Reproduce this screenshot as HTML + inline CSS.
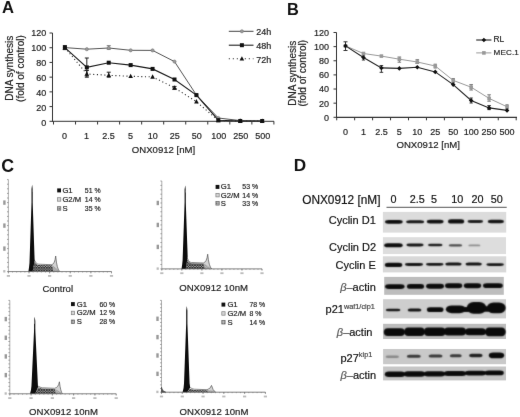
<!DOCTYPE html>
<html><head><meta charset="utf-8"><style>
html,body{margin:0;padding:0;background:#fff;width:520px;height:417px;overflow:hidden}
svg{display:block;font-family:"Liberation Sans", sans-serif;will-change:transform}
</style></head><body>
<svg width="520" height="417" viewBox="0 0 520 417">
<defs><filter id="gblur" x="0" y="0" width="520" height="417" filterUnits="userSpaceOnUse" color-interpolation-filters="sRGB"><feConvolveMatrix order="3" kernelMatrix="0.00276 0.04704 0.00276 0.04704 0.80077 0.04704 0.00276 0.04704 0.00276" edgeMode="duplicate"/></filter></defs>
<g filter="url(#gblur)">
<rect width="520" height="417" fill="#fff"/>
<text x="1.90" y="12.90" font-size="16.6" text-anchor="start" fill="#111" stroke="#111" stroke-width="0" font-weight="bold" >A</text>
<line x1="52.50" y1="33.00" x2="52.50" y2="121.80" stroke="#333" stroke-width="1" />
<line x1="49.50" y1="121.30" x2="52.50" y2="121.30" stroke="#333" stroke-width="1" />
<text x="46.30" y="126.03" font-size="9" text-anchor="end" fill="#222" stroke="#222" stroke-width="0.18" font-weight="normal" >0</text>
<line x1="49.50" y1="106.58" x2="52.50" y2="106.58" stroke="#333" stroke-width="1" />
<text x="46.30" y="111.10" font-size="9" text-anchor="end" fill="#222" stroke="#222" stroke-width="0.18" font-weight="normal" >20</text>
<line x1="49.50" y1="91.87" x2="52.50" y2="91.87" stroke="#333" stroke-width="1" />
<text x="46.30" y="96.17" font-size="9" text-anchor="end" fill="#222" stroke="#222" stroke-width="0.18" font-weight="normal" >40</text>
<line x1="49.50" y1="77.15" x2="52.50" y2="77.15" stroke="#333" stroke-width="1" />
<text x="46.30" y="81.24" font-size="9" text-anchor="end" fill="#222" stroke="#222" stroke-width="0.18" font-weight="normal" >60</text>
<line x1="49.50" y1="62.43" x2="52.50" y2="62.43" stroke="#333" stroke-width="1" />
<text x="46.30" y="66.31" font-size="9" text-anchor="end" fill="#222" stroke="#222" stroke-width="0.18" font-weight="normal" >80</text>
<line x1="49.50" y1="47.72" x2="52.50" y2="47.72" stroke="#333" stroke-width="1" />
<text x="46.30" y="51.38" font-size="9" text-anchor="end" fill="#222" stroke="#222" stroke-width="0.18" font-weight="normal" >100</text>
<line x1="49.50" y1="33.00" x2="52.50" y2="33.00" stroke="#333" stroke-width="1" />
<text x="46.30" y="36.45" font-size="9" text-anchor="end" fill="#222" stroke="#222" stroke-width="0.18" font-weight="normal" >120</text>
<line x1="52.50" y1="121.30" x2="274.00" y2="121.30" stroke="#333" stroke-width="1" />
<line x1="53.50" y1="121.30" x2="53.50" y2="124.50" stroke="#333" stroke-width="1" />
<line x1="75.54" y1="121.30" x2="75.54" y2="124.50" stroke="#333" stroke-width="1" />
<line x1="97.58" y1="121.30" x2="97.58" y2="124.50" stroke="#333" stroke-width="1" />
<line x1="119.62" y1="121.30" x2="119.62" y2="124.50" stroke="#333" stroke-width="1" />
<line x1="141.66" y1="121.30" x2="141.66" y2="124.50" stroke="#333" stroke-width="1" />
<line x1="163.70" y1="121.30" x2="163.70" y2="124.50" stroke="#333" stroke-width="1" />
<line x1="185.74" y1="121.30" x2="185.74" y2="124.50" stroke="#333" stroke-width="1" />
<line x1="207.78" y1="121.30" x2="207.78" y2="124.50" stroke="#333" stroke-width="1" />
<line x1="229.82" y1="121.30" x2="229.82" y2="124.50" stroke="#333" stroke-width="1" />
<line x1="251.86" y1="121.30" x2="251.86" y2="124.50" stroke="#333" stroke-width="1" />
<line x1="273.90" y1="121.30" x2="273.90" y2="124.50" stroke="#333" stroke-width="1" />
<text x="64.50" y="139.20" font-size="9" text-anchor="middle" fill="#222" stroke="#222" stroke-width="0.18" font-weight="normal" >0</text>
<text x="86.54" y="139.20" font-size="9" text-anchor="middle" fill="#222" stroke="#222" stroke-width="0.18" font-weight="normal" >1</text>
<text x="108.58" y="139.20" font-size="9" text-anchor="middle" fill="#222" stroke="#222" stroke-width="0.18" font-weight="normal" >2.5</text>
<text x="130.62" y="139.20" font-size="9" text-anchor="middle" fill="#222" stroke="#222" stroke-width="0.18" font-weight="normal" >5</text>
<text x="152.66" y="139.20" font-size="9" text-anchor="middle" fill="#222" stroke="#222" stroke-width="0.18" font-weight="normal" >10</text>
<text x="174.70" y="139.20" font-size="9" text-anchor="middle" fill="#222" stroke="#222" stroke-width="0.18" font-weight="normal" >25</text>
<text x="196.74" y="139.20" font-size="9" text-anchor="middle" fill="#222" stroke="#222" stroke-width="0.18" font-weight="normal" >50</text>
<text x="218.78" y="139.20" font-size="9" text-anchor="middle" fill="#222" stroke="#222" stroke-width="0.18" font-weight="normal" >100</text>
<text x="240.82" y="139.20" font-size="9" text-anchor="middle" fill="#222" stroke="#222" stroke-width="0.18" font-weight="normal" >250</text>
<text x="262.86" y="139.20" font-size="9" text-anchor="middle" fill="#222" stroke="#222" stroke-width="0.18" font-weight="normal" >500</text>
<text x="163.50" y="153.20" font-size="9.6" text-anchor="middle" fill="#222" stroke="#222" stroke-width="0.18" font-weight="normal" >ONX0912 [nM]</text>
<text transform="translate(12.6,68.2) rotate(-90)" font-size="10" text-anchor="middle" fill="#222" stroke="#222" stroke-width="0.18">DNA synthesis</text>
<text transform="translate(23.8,68.6) rotate(-90)" font-size="10" text-anchor="middle" fill="#222" stroke="#222" stroke-width="0.18">(fold of control)</text>
<line x1="86.82" y1="58.00" x2="86.82" y2="76.00" stroke="#222" stroke-width="1" />
<line x1="84.82" y1="58.00" x2="88.82" y2="58.00" stroke="#222" stroke-width="1" />
<line x1="84.82" y1="76.00" x2="88.82" y2="76.00" stroke="#222" stroke-width="1" />
<line x1="86.82" y1="70.50" x2="86.82" y2="77.20" stroke="#222" stroke-width="1" />
<line x1="84.82" y1="70.50" x2="88.82" y2="70.50" stroke="#222" stroke-width="1" />
<line x1="84.82" y1="77.20" x2="88.82" y2="77.20" stroke="#222" stroke-width="1" />
<line x1="108.74" y1="72.20" x2="108.74" y2="77.20" stroke="#222" stroke-width="1" />
<line x1="106.74" y1="72.20" x2="110.74" y2="72.20" stroke="#222" stroke-width="1" />
<line x1="106.74" y1="77.20" x2="110.74" y2="77.20" stroke="#222" stroke-width="1" />
<line x1="174.50" y1="86.40" x2="174.50" y2="89.40" stroke="#222" stroke-width="1" />
<line x1="172.50" y1="86.40" x2="176.50" y2="86.40" stroke="#222" stroke-width="1" />
<line x1="172.50" y1="89.40" x2="176.50" y2="89.40" stroke="#222" stroke-width="1" />
<line x1="108.74" y1="45.70" x2="108.74" y2="49.30" stroke="#777" stroke-width="1" />
<line x1="106.74" y1="45.70" x2="110.74" y2="45.70" stroke="#777" stroke-width="1" />
<line x1="106.74" y1="49.30" x2="110.74" y2="49.30" stroke="#777" stroke-width="1" />
<line x1="64.90" y1="45.60" x2="64.90" y2="49.60" stroke="#222" stroke-width="1" />
<line x1="62.90" y1="45.60" x2="66.90" y2="45.60" stroke="#222" stroke-width="1" />
<line x1="62.90" y1="49.60" x2="66.90" y2="49.60" stroke="#222" stroke-width="1" />
<polyline points="64.90,47.60 86.82,49.20 108.74,48.00 130.66,50.30 152.58,50.40 174.50,61.60 196.42,95.00 218.34,118.00 240.26,120.60 262.18,121.00" fill="none" stroke="#555" stroke-width="1.0" />
<polyline points="64.90,47.60 86.82,67.40 108.74,62.70 130.66,65.10 152.58,68.90 174.50,79.50 196.42,95.10 218.34,120.20 240.26,121.00 262.18,121.00" fill="none" stroke="#1a1a1a" stroke-width="1.1" />
<polyline points="64.90,47.60 86.82,74.00 108.74,75.30 130.66,76.30 152.58,76.90 174.50,87.80 196.42,101.70 218.34,120.50 240.26,121.00 262.18,121.00" fill="none" stroke="#2a2a2a" stroke-width="1.1" stroke-dasharray="1.1,2.6"/>
<circle cx="64.90" cy="47.60" r="1.6" fill="#999" stroke="#777" stroke-width="0.6"/>
<circle cx="86.82" cy="49.20" r="1.6" fill="#999" stroke="#777" stroke-width="0.6"/>
<circle cx="108.74" cy="48.00" r="1.6" fill="#999" stroke="#777" stroke-width="0.6"/>
<circle cx="130.66" cy="50.30" r="1.6" fill="#999" stroke="#777" stroke-width="0.6"/>
<circle cx="152.58" cy="50.40" r="1.6" fill="#999" stroke="#777" stroke-width="0.6"/>
<circle cx="174.50" cy="61.60" r="1.6" fill="#999" stroke="#777" stroke-width="0.6"/>
<circle cx="196.42" cy="95.00" r="1.6" fill="#999" stroke="#777" stroke-width="0.6"/>
<circle cx="218.34" cy="118.00" r="1.6" fill="#999" stroke="#777" stroke-width="0.6"/>
<circle cx="240.26" cy="120.60" r="1.6" fill="#999" stroke="#777" stroke-width="0.6"/>
<circle cx="262.18" cy="121.00" r="1.6" fill="#999" stroke="#777" stroke-width="0.6"/>
<rect x="62.90" y="45.60" width="4" height="4" fill="#111"/>
<rect x="84.82" y="65.40" width="4" height="4" fill="#111"/>
<rect x="106.74" y="60.70" width="4" height="4" fill="#111"/>
<rect x="128.66" y="63.10" width="4" height="4" fill="#111"/>
<rect x="150.58" y="66.90" width="4" height="4" fill="#111"/>
<rect x="172.50" y="77.50" width="4" height="4" fill="#111"/>
<rect x="194.42" y="93.10" width="4" height="4" fill="#111"/>
<rect x="216.34" y="118.20" width="4" height="4" fill="#111"/>
<rect x="238.26" y="119.00" width="4" height="4" fill="#111"/>
<rect x="260.18" y="119.00" width="4" height="4" fill="#111"/>
<polygon points="64.90,45.00 67.20,49.40 62.60,49.40" fill="#111"/>
<polygon points="86.82,71.40 89.12,75.80 84.52,75.80" fill="#111"/>
<polygon points="108.74,72.70 111.04,77.10 106.44,77.10" fill="#111"/>
<polygon points="130.66,73.70 132.96,78.10 128.36,78.10" fill="#111"/>
<polygon points="152.58,74.30 154.88,78.70 150.28,78.70" fill="#111"/>
<polygon points="174.50,85.20 176.80,89.60 172.20,89.60" fill="#111"/>
<polygon points="196.42,99.10 198.72,103.50 194.12,103.50" fill="#111"/>
<polygon points="218.34,117.90 220.64,122.30 216.04,122.30" fill="#111"/>
<polygon points="240.26,118.40 242.56,122.80 237.96,122.80" fill="#111"/>
<polygon points="262.18,118.40 264.48,122.80 259.88,122.80" fill="#111"/>
<line x1="228.80" y1="31.30" x2="253.50" y2="31.30" stroke="#444" stroke-width="1" />
<circle cx="241.9" cy="31.3" r="1.6" fill="#999" stroke="#777" stroke-width="0.6"/>
<line x1="228.80" y1="45.20" x2="253.50" y2="45.20" stroke="#222" stroke-width="1.1" />
<rect x="239.9" y="43.2" width="4" height="4" fill="#111"/>
<line x1="228.80" y1="58.80" x2="253.50" y2="58.80" stroke="#2a2a2a" stroke-width="1.1" stroke-dasharray="1.1,2.9"/>
<polygon points="241.9,56.2 244.2,60.6 239.6,60.6" fill="#111"/>
<text x="256.30" y="35.00" font-size="9" text-anchor="start" fill="#222" stroke="#222" stroke-width="0.18" font-weight="normal" >24h</text>
<text x="256.30" y="48.80" font-size="9" text-anchor="start" fill="#222" stroke="#222" stroke-width="0.18" font-weight="normal" >48h</text>
<text x="256.30" y="62.50" font-size="9" text-anchor="start" fill="#222" stroke="#222" stroke-width="0.18" font-weight="normal" >72h</text>
<text x="287.00" y="15.10" font-size="16.4" text-anchor="start" fill="#111" stroke="#111" stroke-width="0" font-weight="bold" >B</text>
<line x1="336.50" y1="32.50" x2="336.50" y2="117.80" stroke="#333" stroke-width="1" />
<line x1="333.50" y1="117.30" x2="336.50" y2="117.30" stroke="#333" stroke-width="1" />
<text x="329.00" y="120.70" font-size="9" text-anchor="end" fill="#222" stroke="#222" stroke-width="0.18" font-weight="normal" >0</text>
<line x1="333.50" y1="103.17" x2="336.50" y2="103.17" stroke="#333" stroke-width="1" />
<text x="329.00" y="106.57" font-size="9" text-anchor="end" fill="#222" stroke="#222" stroke-width="0.18" font-weight="normal" >20</text>
<line x1="333.50" y1="89.03" x2="336.50" y2="89.03" stroke="#333" stroke-width="1" />
<text x="329.00" y="92.43" font-size="9" text-anchor="end" fill="#222" stroke="#222" stroke-width="0.18" font-weight="normal" >40</text>
<line x1="333.50" y1="74.90" x2="336.50" y2="74.90" stroke="#333" stroke-width="1" />
<text x="329.00" y="78.30" font-size="9" text-anchor="end" fill="#222" stroke="#222" stroke-width="0.18" font-weight="normal" >60</text>
<line x1="333.50" y1="60.77" x2="336.50" y2="60.77" stroke="#333" stroke-width="1" />
<text x="329.00" y="64.17" font-size="9" text-anchor="end" fill="#222" stroke="#222" stroke-width="0.18" font-weight="normal" >80</text>
<line x1="333.50" y1="46.63" x2="336.50" y2="46.63" stroke="#333" stroke-width="1" />
<text x="329.00" y="50.03" font-size="9" text-anchor="end" fill="#222" stroke="#222" stroke-width="0.18" font-weight="normal" >100</text>
<line x1="333.50" y1="32.50" x2="336.50" y2="32.50" stroke="#333" stroke-width="1" />
<text x="329.00" y="35.90" font-size="9" text-anchor="end" fill="#222" stroke="#222" stroke-width="0.18" font-weight="normal" >120</text>
<line x1="336.50" y1="117.30" x2="517.00" y2="117.30" stroke="#333" stroke-width="1.2" />
<line x1="336.70" y1="117.30" x2="336.70" y2="120.30" stroke="#333" stroke-width="1" />
<line x1="354.65" y1="117.30" x2="354.65" y2="120.30" stroke="#333" stroke-width="1" />
<line x1="372.60" y1="117.30" x2="372.60" y2="120.30" stroke="#333" stroke-width="1" />
<line x1="390.55" y1="117.30" x2="390.55" y2="120.30" stroke="#333" stroke-width="1" />
<line x1="408.50" y1="117.30" x2="408.50" y2="120.30" stroke="#333" stroke-width="1" />
<line x1="426.45" y1="117.30" x2="426.45" y2="120.30" stroke="#333" stroke-width="1" />
<line x1="444.40" y1="117.30" x2="444.40" y2="120.30" stroke="#333" stroke-width="1" />
<line x1="462.35" y1="117.30" x2="462.35" y2="120.30" stroke="#333" stroke-width="1" />
<line x1="480.30" y1="117.30" x2="480.30" y2="120.30" stroke="#333" stroke-width="1" />
<line x1="498.25" y1="117.30" x2="498.25" y2="120.30" stroke="#333" stroke-width="1" />
<line x1="516.20" y1="117.30" x2="516.20" y2="120.30" stroke="#333" stroke-width="1" />
<text x="345.50" y="135.00" font-size="9" text-anchor="middle" fill="#222" stroke="#222" stroke-width="0.18" font-weight="normal" >0</text>
<text x="363.45" y="135.00" font-size="9" text-anchor="middle" fill="#222" stroke="#222" stroke-width="0.18" font-weight="normal" >1</text>
<text x="381.40" y="135.00" font-size="9" text-anchor="middle" fill="#222" stroke="#222" stroke-width="0.18" font-weight="normal" >2.5</text>
<text x="399.35" y="135.00" font-size="9" text-anchor="middle" fill="#222" stroke="#222" stroke-width="0.18" font-weight="normal" >5</text>
<text x="417.30" y="135.00" font-size="9" text-anchor="middle" fill="#222" stroke="#222" stroke-width="0.18" font-weight="normal" >10</text>
<text x="435.25" y="135.00" font-size="9" text-anchor="middle" fill="#222" stroke="#222" stroke-width="0.18" font-weight="normal" >25</text>
<text x="453.20" y="135.00" font-size="9" text-anchor="middle" fill="#222" stroke="#222" stroke-width="0.18" font-weight="normal" >50</text>
<text x="471.15" y="135.00" font-size="9" text-anchor="middle" fill="#222" stroke="#222" stroke-width="0.18" font-weight="normal" >100</text>
<text x="489.10" y="135.00" font-size="9" text-anchor="middle" fill="#222" stroke="#222" stroke-width="0.18" font-weight="normal" >250</text>
<text x="507.05" y="135.00" font-size="9" text-anchor="middle" fill="#222" stroke="#222" stroke-width="0.18" font-weight="normal" >500</text>
<text x="428.20" y="148.40" font-size="9.6" text-anchor="middle" fill="#222" stroke="#222" stroke-width="0.18" font-weight="normal" >ONX0912 [nM]</text>
<text transform="translate(296.0,73.3) rotate(-90)" font-size="10" text-anchor="middle" fill="#222" stroke="#222" stroke-width="0.18">DNA synthesis</text>
<text transform="translate(306.4,73.2) rotate(-90)" font-size="10" text-anchor="middle" fill="#222" stroke="#222" stroke-width="0.18">(fold of control)</text>
<line x1="345.50" y1="41.80" x2="345.50" y2="50.50" stroke="#333" stroke-width="1" />
<line x1="343.50" y1="41.80" x2="347.50" y2="41.80" stroke="#333" stroke-width="1" />
<line x1="343.50" y1="50.50" x2="347.50" y2="50.50" stroke="#333" stroke-width="1" />
<line x1="363.45" y1="55.80" x2="363.45" y2="60.00" stroke="#333" stroke-width="1" />
<line x1="361.85" y1="55.80" x2="365.05" y2="55.80" stroke="#333" stroke-width="1" />
<line x1="361.85" y1="60.00" x2="365.05" y2="60.00" stroke="#333" stroke-width="1" />
<line x1="381.40" y1="65.60" x2="381.40" y2="72.30" stroke="#333" stroke-width="1" />
<line x1="379.60" y1="65.60" x2="383.20" y2="65.60" stroke="#333" stroke-width="1" />
<line x1="379.60" y1="72.30" x2="383.20" y2="72.30" stroke="#333" stroke-width="1" />
<line x1="399.35" y1="57.00" x2="399.35" y2="62.20" stroke="#777" stroke-width="1" />
<line x1="397.55" y1="57.00" x2="401.15" y2="57.00" stroke="#777" stroke-width="1" />
<line x1="397.55" y1="62.20" x2="401.15" y2="62.20" stroke="#777" stroke-width="1" />
<line x1="417.30" y1="59.70" x2="417.30" y2="63.40" stroke="#777" stroke-width="1" />
<line x1="415.50" y1="59.70" x2="419.10" y2="59.70" stroke="#777" stroke-width="1" />
<line x1="415.50" y1="63.40" x2="419.10" y2="63.40" stroke="#777" stroke-width="1" />
<line x1="435.25" y1="64.20" x2="435.25" y2="68.00" stroke="#777" stroke-width="1" />
<line x1="433.65" y1="64.20" x2="436.85" y2="64.20" stroke="#777" stroke-width="1" />
<line x1="433.65" y1="68.00" x2="436.85" y2="68.00" stroke="#777" stroke-width="1" />
<line x1="453.20" y1="78.50" x2="453.20" y2="82.50" stroke="#777" stroke-width="1" />
<line x1="451.60" y1="78.50" x2="454.80" y2="78.50" stroke="#777" stroke-width="1" />
<line x1="451.60" y1="82.50" x2="454.80" y2="82.50" stroke="#777" stroke-width="1" />
<line x1="471.15" y1="84.60" x2="471.15" y2="90.00" stroke="#777" stroke-width="1" />
<line x1="469.35" y1="84.60" x2="472.95" y2="84.60" stroke="#777" stroke-width="1" />
<line x1="469.35" y1="90.00" x2="472.95" y2="90.00" stroke="#777" stroke-width="1" />
<line x1="471.15" y1="98.00" x2="471.15" y2="103.00" stroke="#333" stroke-width="1" />
<line x1="469.55" y1="98.00" x2="472.75" y2="98.00" stroke="#333" stroke-width="1" />
<line x1="469.55" y1="103.00" x2="472.75" y2="103.00" stroke="#333" stroke-width="1" />
<line x1="489.10" y1="94.80" x2="489.10" y2="101.20" stroke="#777" stroke-width="1" />
<line x1="487.30" y1="94.80" x2="490.90" y2="94.80" stroke="#777" stroke-width="1" />
<line x1="487.30" y1="101.20" x2="490.90" y2="101.20" stroke="#777" stroke-width="1" />
<line x1="489.10" y1="105.60" x2="489.10" y2="109.60" stroke="#333" stroke-width="1" />
<line x1="487.30" y1="105.60" x2="490.90" y2="105.60" stroke="#333" stroke-width="1" />
<line x1="487.30" y1="109.60" x2="490.90" y2="109.60" stroke="#333" stroke-width="1" />
<line x1="507.05" y1="104.80" x2="507.05" y2="108.60" stroke="#777" stroke-width="1" />
<line x1="505.45" y1="104.80" x2="508.65" y2="104.80" stroke="#777" stroke-width="1" />
<line x1="505.45" y1="108.60" x2="508.65" y2="108.60" stroke="#777" stroke-width="1" />
<polyline points="345.50,45.90 363.45,53.50 381.40,56.10 399.35,59.20 417.30,62.00 435.25,66.00 453.20,80.40 471.15,87.20 489.10,98.40 507.05,106.80" fill="none" stroke="#9a9a9a" stroke-width="1.0" />
<polyline points="345.50,45.90 363.45,57.50 381.40,67.90 399.35,68.40 417.30,67.30 435.25,71.90 453.20,84.60 471.15,100.50 489.10,107.90 507.05,110.40" fill="none" stroke="#222" stroke-width="1.1" />
<rect x="343.70" y="44.10" width="3.6" height="3.6" fill="#999"/>
<rect x="361.65" y="51.70" width="3.6" height="3.6" fill="#999"/>
<rect x="379.60" y="54.30" width="3.6" height="3.6" fill="#999"/>
<rect x="397.55" y="57.40" width="3.6" height="3.6" fill="#999"/>
<rect x="415.50" y="60.20" width="3.6" height="3.6" fill="#999"/>
<rect x="433.45" y="64.20" width="3.6" height="3.6" fill="#999"/>
<rect x="451.40" y="78.60" width="3.6" height="3.6" fill="#999"/>
<rect x="469.35" y="85.40" width="3.6" height="3.6" fill="#999"/>
<rect x="487.30" y="96.60" width="3.6" height="3.6" fill="#999"/>
<rect x="505.25" y="105.00" width="3.6" height="3.6" fill="#999"/>
<polygon points="345.50,43.60 347.80,45.90 345.50,48.20 343.20,45.90" fill="#111"/>
<polygon points="363.45,55.20 365.75,57.50 363.45,59.80 361.15,57.50" fill="#111"/>
<polygon points="381.40,65.60 383.70,67.90 381.40,70.20 379.10,67.90" fill="#111"/>
<polygon points="399.35,66.10 401.65,68.40 399.35,70.70 397.05,68.40" fill="#111"/>
<polygon points="417.30,65.00 419.60,67.30 417.30,69.60 415.00,67.30" fill="#111"/>
<polygon points="435.25,69.60 437.55,71.90 435.25,74.20 432.95,71.90" fill="#111"/>
<polygon points="453.20,82.30 455.50,84.60 453.20,86.90 450.90,84.60" fill="#111"/>
<polygon points="471.15,98.20 473.45,100.50 471.15,102.80 468.85,100.50" fill="#111"/>
<polygon points="489.10,105.60 491.40,107.90 489.10,110.20 486.80,107.90" fill="#111"/>
<polygon points="507.05,108.10 509.35,110.40 507.05,112.70 504.75,110.40" fill="#111"/>
<line x1="476.20" y1="40.00" x2="491.40" y2="40.00" stroke="#222" stroke-width="1.1" />
<polygon points="483.9,37.7 486.2,40 483.9,42.3 481.6,40" fill="#111"/>
<line x1="476.20" y1="52.90" x2="491.40" y2="52.90" stroke="#9a9a9a" stroke-width="1.0" />
<rect x="482.1" y="51.1" width="3.6" height="3.6" fill="#999"/>
<text x="493.50" y="42.30" font-size="8.4" text-anchor="start" fill="#222" stroke="#222" stroke-width="0.18" font-weight="normal" >RL</text>
<text x="493.60" y="55.40" font-size="8.1" text-anchor="start" fill="#222" stroke="#222" stroke-width="0.18" font-weight="normal" letter-spacing="0.1">MEC.1</text>
<text x="1.20" y="172.20" font-size="17.8" text-anchor="start" fill="#111" stroke="#111" stroke-width="0" font-weight="bold" >C</text>
<defs>
<pattern id="hatch" width="2.6" height="2.6" patternUnits="userSpaceOnUse">
<rect width="2.6" height="2.6" fill="#f4f4f4"/>
<path d="M-0.65,0.65 L0.65,-0.65 M0,2.6 L2.6,0 M1.95,3.25 L3.25,1.95 M-0.65,1.95 L0.65,3.25 M0,0 L2.6,2.6 M1.95,-0.65 L3.25,0.65" stroke="#2a2a2a" stroke-width="0.95"/>
</pattern>
<pattern id="lgrid" width="1.6" height="1.6" patternUnits="userSpaceOnUse">
<rect width="1.6" height="1.6" fill="#bbb"/>
<rect width="0.8" height="0.8" fill="#666"/>
</pattern>
</defs>
<line x1="8.40" y1="179.60" x2="8.40" y2="271.60" stroke="#999" stroke-width="0.8" />
<line x1="7.00" y1="271.60" x2="8.40" y2="271.60" stroke="#777" stroke-width="0.7" />
<line x1="7.00" y1="267.00" x2="8.40" y2="267.00" stroke="#777" stroke-width="0.7" />
<line x1="7.00" y1="262.40" x2="8.40" y2="262.40" stroke="#777" stroke-width="0.7" />
<line x1="7.00" y1="257.80" x2="8.40" y2="257.80" stroke="#777" stroke-width="0.7" />
<line x1="7.00" y1="253.20" x2="8.40" y2="253.20" stroke="#777" stroke-width="0.7" />
<line x1="7.00" y1="248.60" x2="8.40" y2="248.60" stroke="#777" stroke-width="0.7" />
<line x1="7.00" y1="244.00" x2="8.40" y2="244.00" stroke="#777" stroke-width="0.7" />
<line x1="7.00" y1="239.40" x2="8.40" y2="239.40" stroke="#777" stroke-width="0.7" />
<line x1="7.00" y1="234.80" x2="8.40" y2="234.80" stroke="#777" stroke-width="0.7" />
<line x1="7.00" y1="230.20" x2="8.40" y2="230.20" stroke="#777" stroke-width="0.7" />
<line x1="7.00" y1="225.60" x2="8.40" y2="225.60" stroke="#777" stroke-width="0.7" />
<line x1="7.00" y1="221.00" x2="8.40" y2="221.00" stroke="#777" stroke-width="0.7" />
<line x1="7.00" y1="216.40" x2="8.40" y2="216.40" stroke="#777" stroke-width="0.7" />
<line x1="7.00" y1="211.80" x2="8.40" y2="211.80" stroke="#777" stroke-width="0.7" />
<line x1="7.00" y1="207.20" x2="8.40" y2="207.20" stroke="#777" stroke-width="0.7" />
<line x1="7.00" y1="202.60" x2="8.40" y2="202.60" stroke="#777" stroke-width="0.7" />
<line x1="7.00" y1="198.00" x2="8.40" y2="198.00" stroke="#777" stroke-width="0.7" />
<line x1="7.00" y1="193.40" x2="8.40" y2="193.40" stroke="#777" stroke-width="0.7" />
<line x1="7.00" y1="188.80" x2="8.40" y2="188.80" stroke="#777" stroke-width="0.7" />
<line x1="7.00" y1="184.20" x2="8.40" y2="184.20" stroke="#777" stroke-width="0.7" />
<line x1="7.00" y1="179.60" x2="8.40" y2="179.60" stroke="#777" stroke-width="0.7" />
<rect x="3.20" y="246.40" width="2.4" height="4.4" fill="#999"/>
<rect x="3.20" y="223.40" width="2.4" height="4.4" fill="#999"/>
<rect x="3.20" y="200.40" width="2.4" height="4.4" fill="#999"/>
<rect x="3.20" y="270.10" width="2.2" height="2.4" fill="#bbb"/>
<line x1="8.40" y1="271.60" x2="8.40" y2="272.60" stroke="#888" stroke-width="0.6" />
<line x1="12.52" y1="271.60" x2="12.52" y2="272.60" stroke="#888" stroke-width="0.6" />
<line x1="16.65" y1="271.60" x2="16.65" y2="272.60" stroke="#888" stroke-width="0.6" />
<line x1="20.77" y1="271.60" x2="20.77" y2="272.60" stroke="#888" stroke-width="0.6" />
<line x1="24.90" y1="271.60" x2="24.90" y2="272.60" stroke="#888" stroke-width="0.6" />
<line x1="29.02" y1="271.60" x2="29.02" y2="272.60" stroke="#888" stroke-width="0.6" />
<line x1="33.14" y1="271.60" x2="33.14" y2="272.60" stroke="#888" stroke-width="0.6" />
<line x1="37.27" y1="271.60" x2="37.27" y2="272.60" stroke="#888" stroke-width="0.6" />
<line x1="41.39" y1="271.60" x2="41.39" y2="272.60" stroke="#888" stroke-width="0.6" />
<line x1="45.52" y1="271.60" x2="45.52" y2="272.60" stroke="#888" stroke-width="0.6" />
<line x1="49.64" y1="271.60" x2="49.64" y2="272.60" stroke="#888" stroke-width="0.6" />
<line x1="53.76" y1="271.60" x2="53.76" y2="272.60" stroke="#888" stroke-width="0.6" />
<line x1="57.89" y1="271.60" x2="57.89" y2="272.60" stroke="#888" stroke-width="0.6" />
<line x1="62.01" y1="271.60" x2="62.01" y2="272.60" stroke="#888" stroke-width="0.6" />
<line x1="66.14" y1="271.60" x2="66.14" y2="272.60" stroke="#888" stroke-width="0.6" />
<line x1="70.26" y1="271.60" x2="70.26" y2="272.60" stroke="#888" stroke-width="0.6" />
<line x1="74.38" y1="271.60" x2="74.38" y2="272.60" stroke="#888" stroke-width="0.6" />
<line x1="78.51" y1="271.60" x2="78.51" y2="272.60" stroke="#888" stroke-width="0.6" />
<line x1="82.63" y1="271.60" x2="82.63" y2="272.60" stroke="#888" stroke-width="0.6" />
<line x1="86.76" y1="271.60" x2="86.76" y2="272.60" stroke="#888" stroke-width="0.6" />
<line x1="90.88" y1="271.60" x2="90.88" y2="272.60" stroke="#888" stroke-width="0.6" />
<line x1="95.00" y1="271.60" x2="95.00" y2="272.60" stroke="#888" stroke-width="0.6" />
<line x1="99.13" y1="271.60" x2="99.13" y2="272.60" stroke="#888" stroke-width="0.6" />
<line x1="103.25" y1="271.60" x2="103.25" y2="272.60" stroke="#888" stroke-width="0.6" />
<line x1="107.38" y1="271.60" x2="107.38" y2="272.60" stroke="#888" stroke-width="0.6" />
<line x1="111.50" y1="271.60" x2="111.50" y2="272.60" stroke="#888" stroke-width="0.6" />
<line x1="8.40" y1="271.60" x2="8.40" y2="273.40" stroke="#777" stroke-width="0.7" />
<rect x="6.80" y="275.00" width="3.2" height="1.8" fill="#bbb"/>
<line x1="29.02" y1="271.60" x2="29.02" y2="273.40" stroke="#777" stroke-width="0.7" />
<rect x="27.42" y="275.00" width="3.2" height="1.8" fill="#bbb"/>
<line x1="49.64" y1="271.60" x2="49.64" y2="273.40" stroke="#777" stroke-width="0.7" />
<rect x="48.04" y="275.00" width="3.2" height="1.8" fill="#bbb"/>
<line x1="70.26" y1="271.60" x2="70.26" y2="273.40" stroke="#777" stroke-width="0.7" />
<rect x="68.66" y="275.00" width="3.2" height="1.8" fill="#bbb"/>
<line x1="90.88" y1="271.60" x2="90.88" y2="273.40" stroke="#777" stroke-width="0.7" />
<rect x="89.28" y="275.00" width="3.2" height="1.8" fill="#bbb"/>
<line x1="111.50" y1="271.60" x2="111.50" y2="273.40" stroke="#777" stroke-width="0.7" />
<rect x="109.90" y="275.00" width="3.2" height="1.8" fill="#bbb"/>
<path d="M32.40,271.60 L34.40,261.90 C35.70,263.50 36.70,264.70 38.70,265.00 L52.40,265.30 L58.40,270.10 L58.90,271.60 Z" fill="url(#hatch)"/>
<path d="M51.90,265.30 Q54.70,264.00 55.70,256.00 Q56.90,269.60 59.90,271.60 L53.40,271.60 Z" fill="#c4c4c4" fill-opacity="0.75"/>
<path d="M34.70,260.40 C35.70,263.00 36.70,264.00 38.70,264.20 L51.90,264.70 Q54.70,264.00 55.70,256.00 Q56.90,269.60 59.90,271.60" fill="none" stroke="#555" stroke-width="0.7"/>
<polygon points="32.10,184.80 31.50,189.14 31.50,193.48 31.50,197.82 31.50,202.16 31.38,206.50 31.23,210.84 31.09,215.18 30.94,219.52 30.80,223.86 30.65,228.20 30.51,232.54 30.36,236.88 30.21,241.22 30.07,245.56 29.93,249.90 29.78,254.24 29.64,258.58 29.49,262.92 29.05,267.26 28.40,271.60 32.60,271.60 34.70,260.40 34.56,258.58 34.42,254.24 34.27,249.90 34.13,245.56 33.98,241.22 33.84,236.88 33.70,232.54 33.55,228.20 33.41,223.86 33.26,219.52 33.12,215.18 32.97,210.84 32.83,206.50 32.70,202.16 32.70,197.82 32.70,193.48 32.70,189.14 32.10,184.80" fill="#0c0c0c"/>
<path d="M31.60,191.80 L32.10,184.80 L32.60,191.80 Z" fill="#888"/>
<line x1="8.40" y1="271.60" x2="111.50" y2="271.60" stroke="#555" stroke-width="0.75" />
<rect x="57.20" y="188.40" width="3.8" height="4" fill="#111"/>
<rect x="57.50" y="197.70" width="3.3" height="3.5" fill="#d4d4d4" stroke="#808080" stroke-width="0.7"/>
<rect x="57.50" y="206.70" width="3.3" height="3.5" fill="url(#lgrid)" stroke="#606060" stroke-width="0.7"/>
<text x="62.40" y="192.80" font-size="7.7" text-anchor="start" fill="#222" stroke="#222" stroke-width="0.18" font-weight="normal" >G1</text>
<text x="62.40" y="201.80" font-size="7.7" text-anchor="start" fill="#222" stroke="#222" stroke-width="0.18" font-weight="normal" >G2/M</text>
<text x="62.40" y="210.80" font-size="7.7" text-anchor="start" fill="#222" stroke="#222" stroke-width="0.18" font-weight="normal" >S</text>
<text x="84.80" y="192.80" font-size="7.7" text-anchor="start" fill="#222" stroke="#222" stroke-width="0.18" font-weight="normal" textLength="15.79" lengthAdjust="spacingAndGlyphs">51 %</text>
<text x="84.80" y="201.80" font-size="7.7" text-anchor="start" fill="#222" stroke="#222" stroke-width="0.18" font-weight="normal" textLength="15.79" lengthAdjust="spacingAndGlyphs">14 %</text>
<text x="84.80" y="210.80" font-size="7.7" text-anchor="start" fill="#222" stroke="#222" stroke-width="0.18" font-weight="normal" textLength="15.79" lengthAdjust="spacingAndGlyphs">35 %</text>
<text x="57.70" y="291.70" font-size="9.5" text-anchor="middle" fill="#222" stroke="#222" stroke-width="0.18" font-weight="normal" >Control</text>
<line x1="161.80" y1="181.00" x2="161.80" y2="268.90" stroke="#999" stroke-width="0.8" />
<line x1="160.40" y1="268.90" x2="161.80" y2="268.90" stroke="#777" stroke-width="0.7" />
<line x1="160.40" y1="264.50" x2="161.80" y2="264.50" stroke="#777" stroke-width="0.7" />
<line x1="160.40" y1="260.11" x2="161.80" y2="260.11" stroke="#777" stroke-width="0.7" />
<line x1="160.40" y1="255.71" x2="161.80" y2="255.71" stroke="#777" stroke-width="0.7" />
<line x1="160.40" y1="251.32" x2="161.80" y2="251.32" stroke="#777" stroke-width="0.7" />
<line x1="160.40" y1="246.92" x2="161.80" y2="246.92" stroke="#777" stroke-width="0.7" />
<line x1="160.40" y1="242.53" x2="161.80" y2="242.53" stroke="#777" stroke-width="0.7" />
<line x1="160.40" y1="238.13" x2="161.80" y2="238.13" stroke="#777" stroke-width="0.7" />
<line x1="160.40" y1="233.74" x2="161.80" y2="233.74" stroke="#777" stroke-width="0.7" />
<line x1="160.40" y1="229.34" x2="161.80" y2="229.34" stroke="#777" stroke-width="0.7" />
<line x1="160.40" y1="224.95" x2="161.80" y2="224.95" stroke="#777" stroke-width="0.7" />
<line x1="160.40" y1="220.56" x2="161.80" y2="220.56" stroke="#777" stroke-width="0.7" />
<line x1="160.40" y1="216.16" x2="161.80" y2="216.16" stroke="#777" stroke-width="0.7" />
<line x1="160.40" y1="211.76" x2="161.80" y2="211.76" stroke="#777" stroke-width="0.7" />
<line x1="160.40" y1="207.37" x2="161.80" y2="207.37" stroke="#777" stroke-width="0.7" />
<line x1="160.40" y1="202.97" x2="161.80" y2="202.97" stroke="#777" stroke-width="0.7" />
<line x1="160.40" y1="198.58" x2="161.80" y2="198.58" stroke="#777" stroke-width="0.7" />
<line x1="160.40" y1="194.19" x2="161.80" y2="194.19" stroke="#777" stroke-width="0.7" />
<line x1="160.40" y1="189.79" x2="161.80" y2="189.79" stroke="#777" stroke-width="0.7" />
<line x1="160.40" y1="185.40" x2="161.80" y2="185.40" stroke="#777" stroke-width="0.7" />
<line x1="160.40" y1="181.00" x2="161.80" y2="181.00" stroke="#777" stroke-width="0.7" />
<rect x="156.60" y="244.72" width="2.4" height="4.4" fill="#999"/>
<rect x="156.60" y="222.75" width="2.4" height="4.4" fill="#999"/>
<rect x="156.60" y="200.78" width="2.4" height="4.4" fill="#999"/>
<rect x="156.60" y="267.40" width="2.2" height="2.4" fill="#bbb"/>
<line x1="161.80" y1="268.90" x2="161.80" y2="269.90" stroke="#888" stroke-width="0.6" />
<line x1="165.81" y1="268.90" x2="165.81" y2="269.90" stroke="#888" stroke-width="0.6" />
<line x1="169.82" y1="268.90" x2="169.82" y2="269.90" stroke="#888" stroke-width="0.6" />
<line x1="173.82" y1="268.90" x2="173.82" y2="269.90" stroke="#888" stroke-width="0.6" />
<line x1="177.83" y1="268.90" x2="177.83" y2="269.90" stroke="#888" stroke-width="0.6" />
<line x1="181.84" y1="268.90" x2="181.84" y2="269.90" stroke="#888" stroke-width="0.6" />
<line x1="185.85" y1="268.90" x2="185.85" y2="269.90" stroke="#888" stroke-width="0.6" />
<line x1="189.86" y1="268.90" x2="189.86" y2="269.90" stroke="#888" stroke-width="0.6" />
<line x1="193.86" y1="268.90" x2="193.86" y2="269.90" stroke="#888" stroke-width="0.6" />
<line x1="197.87" y1="268.90" x2="197.87" y2="269.90" stroke="#888" stroke-width="0.6" />
<line x1="201.88" y1="268.90" x2="201.88" y2="269.90" stroke="#888" stroke-width="0.6" />
<line x1="205.89" y1="268.90" x2="205.89" y2="269.90" stroke="#888" stroke-width="0.6" />
<line x1="209.90" y1="268.90" x2="209.90" y2="269.90" stroke="#888" stroke-width="0.6" />
<line x1="213.90" y1="268.90" x2="213.90" y2="269.90" stroke="#888" stroke-width="0.6" />
<line x1="217.91" y1="268.90" x2="217.91" y2="269.90" stroke="#888" stroke-width="0.6" />
<line x1="221.92" y1="268.90" x2="221.92" y2="269.90" stroke="#888" stroke-width="0.6" />
<line x1="225.93" y1="268.90" x2="225.93" y2="269.90" stroke="#888" stroke-width="0.6" />
<line x1="229.94" y1="268.90" x2="229.94" y2="269.90" stroke="#888" stroke-width="0.6" />
<line x1="233.94" y1="268.90" x2="233.94" y2="269.90" stroke="#888" stroke-width="0.6" />
<line x1="237.95" y1="268.90" x2="237.95" y2="269.90" stroke="#888" stroke-width="0.6" />
<line x1="241.96" y1="268.90" x2="241.96" y2="269.90" stroke="#888" stroke-width="0.6" />
<line x1="245.97" y1="268.90" x2="245.97" y2="269.90" stroke="#888" stroke-width="0.6" />
<line x1="249.98" y1="268.90" x2="249.98" y2="269.90" stroke="#888" stroke-width="0.6" />
<line x1="253.98" y1="268.90" x2="253.98" y2="269.90" stroke="#888" stroke-width="0.6" />
<line x1="257.99" y1="268.90" x2="257.99" y2="269.90" stroke="#888" stroke-width="0.6" />
<line x1="262.00" y1="268.90" x2="262.00" y2="269.90" stroke="#888" stroke-width="0.6" />
<line x1="161.80" y1="268.90" x2="161.80" y2="270.70" stroke="#777" stroke-width="0.7" />
<rect x="160.20" y="272.30" width="3.2" height="1.8" fill="#bbb"/>
<line x1="181.84" y1="268.90" x2="181.84" y2="270.70" stroke="#777" stroke-width="0.7" />
<rect x="180.24" y="272.30" width="3.2" height="1.8" fill="#bbb"/>
<line x1="201.88" y1="268.90" x2="201.88" y2="270.70" stroke="#777" stroke-width="0.7" />
<rect x="200.28" y="272.30" width="3.2" height="1.8" fill="#bbb"/>
<line x1="221.92" y1="268.90" x2="221.92" y2="270.70" stroke="#777" stroke-width="0.7" />
<rect x="220.32" y="272.30" width="3.2" height="1.8" fill="#bbb"/>
<line x1="241.96" y1="268.90" x2="241.96" y2="270.70" stroke="#777" stroke-width="0.7" />
<rect x="240.36" y="272.30" width="3.2" height="1.8" fill="#bbb"/>
<line x1="262.00" y1="268.90" x2="262.00" y2="270.70" stroke="#777" stroke-width="0.7" />
<rect x="260.40" y="272.30" width="3.2" height="1.8" fill="#bbb"/>
<path d="M185.50,268.90 L187.20,259.80 C188.50,261.80 189.50,263.00 191.50,263.30 L203.80,263.60 L210.30,267.40 L210.80,268.90 Z" fill="url(#hatch)"/>
<path d="M203.30,263.60 Q206.70,262.30 207.70,254.20 Q208.90,266.90 211.80,268.90 L204.80,268.90 Z" fill="#c4c4c4" fill-opacity="0.75"/>
<path d="M187.50,258.30 C188.50,261.30 189.50,262.30 191.50,262.50 L203.30,263.00 Q206.70,262.30 207.70,254.20 Q208.90,266.90 211.80,268.90" fill="none" stroke="#555" stroke-width="0.7"/>
<polygon points="185.20,185.40 184.60,189.58 184.60,193.75 184.60,197.93 184.60,202.10 184.47,206.28 184.33,210.45 184.19,214.62 184.04,218.80 183.89,222.97 183.75,227.15 183.60,231.32 183.46,235.50 183.31,239.67 183.17,243.85 183.02,248.02 182.88,252.20 182.73,256.38 182.59,260.55 182.14,264.72 181.50,268.90 185.70,268.90 187.50,258.30 187.66,256.38 187.52,252.20 187.38,248.02 187.23,243.85 187.08,239.67 186.94,235.50 186.79,231.32 186.65,227.15 186.50,222.97 186.36,218.80 186.21,214.62 186.07,210.45 185.92,206.28 185.80,202.10 185.80,197.93 185.80,193.75 185.80,189.58 185.20,185.40" fill="#0c0c0c"/>
<path d="M184.70,192.40 L185.20,185.40 L185.70,192.40 Z" fill="#888"/>
<line x1="161.80" y1="268.90" x2="262.00" y2="268.90" stroke="#555" stroke-width="0.75" />
<rect x="215.60" y="184.90" width="3.8" height="4" fill="#111"/>
<rect x="215.90" y="193.40" width="3.3" height="3.5" fill="#d4d4d4" stroke="#808080" stroke-width="0.7"/>
<rect x="215.90" y="201.60" width="3.3" height="3.5" fill="url(#lgrid)" stroke="#606060" stroke-width="0.7"/>
<text x="220.80" y="189.30" font-size="7.7" text-anchor="start" fill="#222" stroke="#222" stroke-width="0.18" font-weight="normal" >G1</text>
<text x="220.80" y="197.50" font-size="7.7" text-anchor="start" fill="#222" stroke="#222" stroke-width="0.18" font-weight="normal" >G2/M</text>
<text x="220.80" y="205.70" font-size="7.7" text-anchor="start" fill="#222" stroke="#222" stroke-width="0.18" font-weight="normal" >S</text>
<text x="242.30" y="189.30" font-size="7.7" text-anchor="start" fill="#222" stroke="#222" stroke-width="0.18" font-weight="normal" textLength="15.79" lengthAdjust="spacingAndGlyphs">53 %</text>
<text x="242.30" y="197.50" font-size="7.7" text-anchor="start" fill="#222" stroke="#222" stroke-width="0.18" font-weight="normal" textLength="15.79" lengthAdjust="spacingAndGlyphs">14 %</text>
<text x="242.30" y="205.70" font-size="7.7" text-anchor="start" fill="#222" stroke="#222" stroke-width="0.18" font-weight="normal" textLength="15.79" lengthAdjust="spacingAndGlyphs">33 %</text>
<text x="213.60" y="291.10" font-size="9.6" text-anchor="middle" fill="#222" stroke="#222" stroke-width="0.18" font-weight="normal" >ONX0912 10nM</text>
<line x1="9.80" y1="300.40" x2="9.80" y2="393.80" stroke="#999" stroke-width="0.8" />
<line x1="8.40" y1="393.80" x2="9.80" y2="393.80" stroke="#777" stroke-width="0.7" />
<line x1="8.40" y1="390.06" x2="9.80" y2="390.06" stroke="#777" stroke-width="0.7" />
<line x1="8.40" y1="386.33" x2="9.80" y2="386.33" stroke="#777" stroke-width="0.7" />
<line x1="8.40" y1="382.59" x2="9.80" y2="382.59" stroke="#777" stroke-width="0.7" />
<line x1="8.40" y1="378.86" x2="9.80" y2="378.86" stroke="#777" stroke-width="0.7" />
<line x1="8.40" y1="375.12" x2="9.80" y2="375.12" stroke="#777" stroke-width="0.7" />
<line x1="8.40" y1="371.38" x2="9.80" y2="371.38" stroke="#777" stroke-width="0.7" />
<line x1="8.40" y1="367.65" x2="9.80" y2="367.65" stroke="#777" stroke-width="0.7" />
<line x1="8.40" y1="363.91" x2="9.80" y2="363.91" stroke="#777" stroke-width="0.7" />
<line x1="8.40" y1="360.18" x2="9.80" y2="360.18" stroke="#777" stroke-width="0.7" />
<line x1="8.40" y1="356.44" x2="9.80" y2="356.44" stroke="#777" stroke-width="0.7" />
<line x1="8.40" y1="352.70" x2="9.80" y2="352.70" stroke="#777" stroke-width="0.7" />
<line x1="8.40" y1="348.97" x2="9.80" y2="348.97" stroke="#777" stroke-width="0.7" />
<line x1="8.40" y1="345.23" x2="9.80" y2="345.23" stroke="#777" stroke-width="0.7" />
<line x1="8.40" y1="341.50" x2="9.80" y2="341.50" stroke="#777" stroke-width="0.7" />
<line x1="8.40" y1="337.76" x2="9.80" y2="337.76" stroke="#777" stroke-width="0.7" />
<line x1="8.40" y1="334.02" x2="9.80" y2="334.02" stroke="#777" stroke-width="0.7" />
<line x1="8.40" y1="330.29" x2="9.80" y2="330.29" stroke="#777" stroke-width="0.7" />
<line x1="8.40" y1="326.55" x2="9.80" y2="326.55" stroke="#777" stroke-width="0.7" />
<line x1="8.40" y1="322.82" x2="9.80" y2="322.82" stroke="#777" stroke-width="0.7" />
<line x1="8.40" y1="319.08" x2="9.80" y2="319.08" stroke="#777" stroke-width="0.7" />
<line x1="8.40" y1="315.34" x2="9.80" y2="315.34" stroke="#777" stroke-width="0.7" />
<line x1="8.40" y1="311.61" x2="9.80" y2="311.61" stroke="#777" stroke-width="0.7" />
<line x1="8.40" y1="307.87" x2="9.80" y2="307.87" stroke="#777" stroke-width="0.7" />
<line x1="8.40" y1="304.14" x2="9.80" y2="304.14" stroke="#777" stroke-width="0.7" />
<line x1="8.40" y1="300.40" x2="9.80" y2="300.40" stroke="#777" stroke-width="0.7" />
<rect x="4.60" y="372.92" width="2.4" height="4.4" fill="#999"/>
<rect x="4.60" y="354.24" width="2.4" height="4.4" fill="#999"/>
<rect x="4.60" y="335.56" width="2.4" height="4.4" fill="#999"/>
<rect x="4.60" y="316.88" width="2.4" height="4.4" fill="#999"/>
<rect x="4.60" y="392.30" width="2.2" height="2.4" fill="#bbb"/>
<line x1="9.80" y1="393.80" x2="9.80" y2="394.80" stroke="#888" stroke-width="0.6" />
<line x1="14.06" y1="393.80" x2="14.06" y2="394.80" stroke="#888" stroke-width="0.6" />
<line x1="18.31" y1="393.80" x2="18.31" y2="394.80" stroke="#888" stroke-width="0.6" />
<line x1="22.57" y1="393.80" x2="22.57" y2="394.80" stroke="#888" stroke-width="0.6" />
<line x1="26.82" y1="393.80" x2="26.82" y2="394.80" stroke="#888" stroke-width="0.6" />
<line x1="31.08" y1="393.80" x2="31.08" y2="394.80" stroke="#888" stroke-width="0.6" />
<line x1="35.34" y1="393.80" x2="35.34" y2="394.80" stroke="#888" stroke-width="0.6" />
<line x1="39.59" y1="393.80" x2="39.59" y2="394.80" stroke="#888" stroke-width="0.6" />
<line x1="43.85" y1="393.80" x2="43.85" y2="394.80" stroke="#888" stroke-width="0.6" />
<line x1="48.10" y1="393.80" x2="48.10" y2="394.80" stroke="#888" stroke-width="0.6" />
<line x1="52.36" y1="393.80" x2="52.36" y2="394.80" stroke="#888" stroke-width="0.6" />
<line x1="56.62" y1="393.80" x2="56.62" y2="394.80" stroke="#888" stroke-width="0.6" />
<line x1="60.87" y1="393.80" x2="60.87" y2="394.80" stroke="#888" stroke-width="0.6" />
<line x1="65.13" y1="393.80" x2="65.13" y2="394.80" stroke="#888" stroke-width="0.6" />
<line x1="69.38" y1="393.80" x2="69.38" y2="394.80" stroke="#888" stroke-width="0.6" />
<line x1="73.64" y1="393.80" x2="73.64" y2="394.80" stroke="#888" stroke-width="0.6" />
<line x1="77.90" y1="393.80" x2="77.90" y2="394.80" stroke="#888" stroke-width="0.6" />
<line x1="82.15" y1="393.80" x2="82.15" y2="394.80" stroke="#888" stroke-width="0.6" />
<line x1="86.41" y1="393.80" x2="86.41" y2="394.80" stroke="#888" stroke-width="0.6" />
<line x1="90.66" y1="393.80" x2="90.66" y2="394.80" stroke="#888" stroke-width="0.6" />
<line x1="94.92" y1="393.80" x2="94.92" y2="394.80" stroke="#888" stroke-width="0.6" />
<line x1="99.18" y1="393.80" x2="99.18" y2="394.80" stroke="#888" stroke-width="0.6" />
<line x1="103.43" y1="393.80" x2="103.43" y2="394.80" stroke="#888" stroke-width="0.6" />
<line x1="107.69" y1="393.80" x2="107.69" y2="394.80" stroke="#888" stroke-width="0.6" />
<line x1="111.94" y1="393.80" x2="111.94" y2="394.80" stroke="#888" stroke-width="0.6" />
<line x1="116.20" y1="393.80" x2="116.20" y2="394.80" stroke="#888" stroke-width="0.6" />
<line x1="9.80" y1="393.80" x2="9.80" y2="395.60" stroke="#777" stroke-width="0.7" />
<rect x="8.20" y="397.20" width="3.2" height="1.8" fill="#bbb"/>
<line x1="31.08" y1="393.80" x2="31.08" y2="395.60" stroke="#777" stroke-width="0.7" />
<rect x="29.48" y="397.20" width="3.2" height="1.8" fill="#bbb"/>
<line x1="52.36" y1="393.80" x2="52.36" y2="395.60" stroke="#777" stroke-width="0.7" />
<rect x="50.76" y="397.20" width="3.2" height="1.8" fill="#bbb"/>
<line x1="73.64" y1="393.80" x2="73.64" y2="395.60" stroke="#777" stroke-width="0.7" />
<rect x="72.04" y="397.20" width="3.2" height="1.8" fill="#bbb"/>
<line x1="94.92" y1="393.80" x2="94.92" y2="395.60" stroke="#777" stroke-width="0.7" />
<rect x="93.32" y="397.20" width="3.2" height="1.8" fill="#bbb"/>
<line x1="116.20" y1="393.80" x2="116.20" y2="395.60" stroke="#777" stroke-width="0.7" />
<rect x="114.60" y="397.20" width="3.2" height="1.8" fill="#bbb"/>
<path d="M35.00,393.80 L38.10,387.70 C39.40,387.10 40.40,388.30 42.40,388.60 L55.00,388.90 L61.00,392.30 L61.50,393.80 Z" fill="url(#hatch)"/>
<path d="M54.50,388.90 Q58.40,387.60 59.40,381.80 Q60.60,391.80 62.50,393.80 L56.00,393.80 Z" fill="#c4c4c4" fill-opacity="0.75"/>
<path d="M38.40,386.20 C39.40,386.60 40.40,387.60 42.40,387.80 L54.50,388.30 Q58.40,387.60 59.40,381.80 Q60.60,391.80 62.50,393.80" fill="none" stroke="#555" stroke-width="0.7"/>
<polygon points="34.70,316.80 34.10,320.65 34.10,324.50 34.10,328.35 33.98,332.20 33.80,336.05 33.62,339.90 33.44,343.75 33.26,347.60 33.08,351.45 32.90,355.30 32.72,359.15 32.54,363.00 32.36,366.85 32.18,370.70 32.00,374.55 31.82,378.40 31.64,382.25 31.46,386.10 30.98,389.95 30.00,393.80 35.20,393.80 38.40,386.20 37.94,386.10 37.76,382.25 37.58,378.40 37.40,374.55 37.22,370.70 37.04,366.85 36.86,363.00 36.68,359.15 36.50,355.30 36.32,351.45 36.14,347.60 35.96,343.75 35.78,339.90 35.60,336.05 35.42,332.20 35.30,328.35 35.30,324.50 35.30,320.65 34.70,316.80" fill="#0c0c0c"/>
<path d="M34.20,323.80 L34.70,316.80 L35.20,323.80 Z" fill="#888"/>
<line x1="9.80" y1="393.80" x2="116.20" y2="393.80" stroke="#555" stroke-width="0.75" />
<rect x="71.00" y="302.10" width="3.8" height="4" fill="#111"/>
<rect x="71.30" y="311.20" width="3.3" height="3.5" fill="#d4d4d4" stroke="#808080" stroke-width="0.7"/>
<rect x="71.30" y="320.00" width="3.3" height="3.5" fill="url(#lgrid)" stroke="#606060" stroke-width="0.7"/>
<text x="76.80" y="306.50" font-size="7.7" text-anchor="start" fill="#222" stroke="#222" stroke-width="0.18" font-weight="normal" >G1</text>
<text x="76.80" y="315.30" font-size="7.7" text-anchor="start" fill="#222" stroke="#222" stroke-width="0.18" font-weight="normal" >G2/M</text>
<text x="76.80" y="324.10" font-size="7.7" text-anchor="start" fill="#222" stroke="#222" stroke-width="0.18" font-weight="normal" >S</text>
<text x="99.40" y="306.50" font-size="7.7" text-anchor="start" fill="#222" stroke="#222" stroke-width="0.18" font-weight="normal" textLength="15.79" lengthAdjust="spacingAndGlyphs">60 %</text>
<text x="99.40" y="315.30" font-size="7.7" text-anchor="start" fill="#222" stroke="#222" stroke-width="0.18" font-weight="normal" textLength="15.79" lengthAdjust="spacingAndGlyphs">12 %</text>
<text x="99.40" y="324.10" font-size="7.7" text-anchor="start" fill="#222" stroke="#222" stroke-width="0.18" font-weight="normal" textLength="15.79" lengthAdjust="spacingAndGlyphs">28 %</text>
<text x="63.50" y="415.00" font-size="9.6" text-anchor="middle" fill="#222" stroke="#222" stroke-width="0.18" font-weight="normal" >ONX0912 10nM</text>
<line x1="161.50" y1="300.40" x2="161.50" y2="392.20" stroke="#999" stroke-width="0.8" />
<line x1="160.10" y1="392.20" x2="161.50" y2="392.20" stroke="#777" stroke-width="0.7" />
<line x1="160.10" y1="388.53" x2="161.50" y2="388.53" stroke="#777" stroke-width="0.7" />
<line x1="160.10" y1="384.86" x2="161.50" y2="384.86" stroke="#777" stroke-width="0.7" />
<line x1="160.10" y1="381.18" x2="161.50" y2="381.18" stroke="#777" stroke-width="0.7" />
<line x1="160.10" y1="377.51" x2="161.50" y2="377.51" stroke="#777" stroke-width="0.7" />
<line x1="160.10" y1="373.84" x2="161.50" y2="373.84" stroke="#777" stroke-width="0.7" />
<line x1="160.10" y1="370.17" x2="161.50" y2="370.17" stroke="#777" stroke-width="0.7" />
<line x1="160.10" y1="366.50" x2="161.50" y2="366.50" stroke="#777" stroke-width="0.7" />
<line x1="160.10" y1="362.82" x2="161.50" y2="362.82" stroke="#777" stroke-width="0.7" />
<line x1="160.10" y1="359.15" x2="161.50" y2="359.15" stroke="#777" stroke-width="0.7" />
<line x1="160.10" y1="355.48" x2="161.50" y2="355.48" stroke="#777" stroke-width="0.7" />
<line x1="160.10" y1="351.81" x2="161.50" y2="351.81" stroke="#777" stroke-width="0.7" />
<line x1="160.10" y1="348.14" x2="161.50" y2="348.14" stroke="#777" stroke-width="0.7" />
<line x1="160.10" y1="344.46" x2="161.50" y2="344.46" stroke="#777" stroke-width="0.7" />
<line x1="160.10" y1="340.79" x2="161.50" y2="340.79" stroke="#777" stroke-width="0.7" />
<line x1="160.10" y1="337.12" x2="161.50" y2="337.12" stroke="#777" stroke-width="0.7" />
<line x1="160.10" y1="333.45" x2="161.50" y2="333.45" stroke="#777" stroke-width="0.7" />
<line x1="160.10" y1="329.78" x2="161.50" y2="329.78" stroke="#777" stroke-width="0.7" />
<line x1="160.10" y1="326.10" x2="161.50" y2="326.10" stroke="#777" stroke-width="0.7" />
<line x1="160.10" y1="322.43" x2="161.50" y2="322.43" stroke="#777" stroke-width="0.7" />
<line x1="160.10" y1="318.76" x2="161.50" y2="318.76" stroke="#777" stroke-width="0.7" />
<line x1="160.10" y1="315.09" x2="161.50" y2="315.09" stroke="#777" stroke-width="0.7" />
<line x1="160.10" y1="311.42" x2="161.50" y2="311.42" stroke="#777" stroke-width="0.7" />
<line x1="160.10" y1="307.74" x2="161.50" y2="307.74" stroke="#777" stroke-width="0.7" />
<line x1="160.10" y1="304.07" x2="161.50" y2="304.07" stroke="#777" stroke-width="0.7" />
<line x1="160.10" y1="300.40" x2="161.50" y2="300.40" stroke="#777" stroke-width="0.7" />
<rect x="156.30" y="371.64" width="2.4" height="4.4" fill="#999"/>
<rect x="156.30" y="353.28" width="2.4" height="4.4" fill="#999"/>
<rect x="156.30" y="334.92" width="2.4" height="4.4" fill="#999"/>
<rect x="156.30" y="316.56" width="2.4" height="4.4" fill="#999"/>
<rect x="156.30" y="390.70" width="2.2" height="2.4" fill="#bbb"/>
<line x1="161.50" y1="392.20" x2="161.50" y2="393.20" stroke="#888" stroke-width="0.6" />
<line x1="165.66" y1="392.20" x2="165.66" y2="393.20" stroke="#888" stroke-width="0.6" />
<line x1="169.81" y1="392.20" x2="169.81" y2="393.20" stroke="#888" stroke-width="0.6" />
<line x1="173.97" y1="392.20" x2="173.97" y2="393.20" stroke="#888" stroke-width="0.6" />
<line x1="178.12" y1="392.20" x2="178.12" y2="393.20" stroke="#888" stroke-width="0.6" />
<line x1="182.28" y1="392.20" x2="182.28" y2="393.20" stroke="#888" stroke-width="0.6" />
<line x1="186.44" y1="392.20" x2="186.44" y2="393.20" stroke="#888" stroke-width="0.6" />
<line x1="190.59" y1="392.20" x2="190.59" y2="393.20" stroke="#888" stroke-width="0.6" />
<line x1="194.75" y1="392.20" x2="194.75" y2="393.20" stroke="#888" stroke-width="0.6" />
<line x1="198.90" y1="392.20" x2="198.90" y2="393.20" stroke="#888" stroke-width="0.6" />
<line x1="203.06" y1="392.20" x2="203.06" y2="393.20" stroke="#888" stroke-width="0.6" />
<line x1="207.22" y1="392.20" x2="207.22" y2="393.20" stroke="#888" stroke-width="0.6" />
<line x1="211.37" y1="392.20" x2="211.37" y2="393.20" stroke="#888" stroke-width="0.6" />
<line x1="215.53" y1="392.20" x2="215.53" y2="393.20" stroke="#888" stroke-width="0.6" />
<line x1="219.68" y1="392.20" x2="219.68" y2="393.20" stroke="#888" stroke-width="0.6" />
<line x1="223.84" y1="392.20" x2="223.84" y2="393.20" stroke="#888" stroke-width="0.6" />
<line x1="228.00" y1="392.20" x2="228.00" y2="393.20" stroke="#888" stroke-width="0.6" />
<line x1="232.15" y1="392.20" x2="232.15" y2="393.20" stroke="#888" stroke-width="0.6" />
<line x1="236.31" y1="392.20" x2="236.31" y2="393.20" stroke="#888" stroke-width="0.6" />
<line x1="240.46" y1="392.20" x2="240.46" y2="393.20" stroke="#888" stroke-width="0.6" />
<line x1="244.62" y1="392.20" x2="244.62" y2="393.20" stroke="#888" stroke-width="0.6" />
<line x1="248.78" y1="392.20" x2="248.78" y2="393.20" stroke="#888" stroke-width="0.6" />
<line x1="252.93" y1="392.20" x2="252.93" y2="393.20" stroke="#888" stroke-width="0.6" />
<line x1="257.09" y1="392.20" x2="257.09" y2="393.20" stroke="#888" stroke-width="0.6" />
<line x1="261.24" y1="392.20" x2="261.24" y2="393.20" stroke="#888" stroke-width="0.6" />
<line x1="265.40" y1="392.20" x2="265.40" y2="393.20" stroke="#888" stroke-width="0.6" />
<line x1="161.50" y1="392.20" x2="161.50" y2="394.00" stroke="#777" stroke-width="0.7" />
<rect x="159.90" y="395.60" width="3.2" height="1.8" fill="#bbb"/>
<line x1="182.28" y1="392.20" x2="182.28" y2="394.00" stroke="#777" stroke-width="0.7" />
<rect x="180.68" y="395.60" width="3.2" height="1.8" fill="#bbb"/>
<line x1="203.06" y1="392.20" x2="203.06" y2="394.00" stroke="#777" stroke-width="0.7" />
<rect x="201.46" y="395.60" width="3.2" height="1.8" fill="#bbb"/>
<line x1="223.84" y1="392.20" x2="223.84" y2="394.00" stroke="#777" stroke-width="0.7" />
<rect x="222.24" y="395.60" width="3.2" height="1.8" fill="#bbb"/>
<line x1="244.62" y1="392.20" x2="244.62" y2="394.00" stroke="#777" stroke-width="0.7" />
<rect x="243.02" y="395.60" width="3.2" height="1.8" fill="#bbb"/>
<line x1="265.40" y1="392.20" x2="265.40" y2="394.00" stroke="#777" stroke-width="0.7" />
<rect x="263.80" y="395.60" width="3.2" height="1.8" fill="#bbb"/>
<path d="M161.50,392.20 L161.50,387.20 C162.30,389.20 163.00,391.40 165.50,391.90 L165.50,392.20 Z" fill="#555" stroke="#333" stroke-width="0.5"/>
<path d="M187.10,392.20 L189.90,389.00 C191.20,388.50 192.20,389.70 194.20,390.00 L207.50,390.30 L214.00,390.70 L214.50,392.20 Z" fill="url(#hatch)"/>
<path d="M207.00,390.30 Q210.50,389.00 211.50,385.40 Q212.70,390.20 215.50,392.20 L208.50,392.20 Z" fill="#c4c4c4" fill-opacity="0.75"/>
<path d="M190.20,387.50 C191.20,388.00 192.20,389.00 194.20,389.20 L207.00,389.70 Q210.50,389.00 211.50,385.40 Q212.70,390.20 215.50,392.20" fill="none" stroke="#555" stroke-width="0.7"/>
<polygon points="186.80,306.20 186.20,310.50 186.20,314.80 186.20,319.10 186.18,323.40 186.03,327.70 185.87,332.00 185.72,336.30 185.56,340.60 185.41,344.90 185.25,349.20 185.09,353.50 184.94,357.80 184.79,362.10 184.63,366.40 184.48,370.70 184.32,375.00 184.17,379.30 184.01,383.60 183.56,387.90 182.60,392.20 187.30,392.20 190.20,387.50 189.59,383.60 189.44,379.30 189.28,375.00 189.12,370.70 188.97,366.40 188.81,362.10 188.66,357.80 188.51,353.50 188.35,349.20 188.20,344.90 188.04,340.60 187.89,336.30 187.73,332.00 187.58,327.70 187.42,323.40 187.40,319.10 187.40,314.80 187.40,310.50 186.80,306.20" fill="#0c0c0c"/>
<path d="M186.30,308.70 L186.80,306.20 L187.30,308.70 Z" fill="#888"/>
<line x1="161.50" y1="392.20" x2="265.40" y2="392.20" stroke="#555" stroke-width="0.75" />
<rect x="221.50" y="302.60" width="3.8" height="4" fill="#111"/>
<rect x="221.80" y="311.70" width="3.3" height="3.5" fill="#d4d4d4" stroke="#808080" stroke-width="0.7"/>
<rect x="221.80" y="320.50" width="3.3" height="3.5" fill="url(#lgrid)" stroke="#606060" stroke-width="0.7"/>
<text x="227.40" y="307.00" font-size="7.7" text-anchor="start" fill="#222" stroke="#222" stroke-width="0.18" font-weight="normal" >G1</text>
<text x="227.40" y="315.80" font-size="7.7" text-anchor="start" fill="#222" stroke="#222" stroke-width="0.18" font-weight="normal" >G2/M</text>
<text x="227.40" y="324.60" font-size="7.7" text-anchor="start" fill="#222" stroke="#222" stroke-width="0.18" font-weight="normal" >S</text>
<text x="249.40" y="307.00" font-size="7.7" text-anchor="start" fill="#222" stroke="#222" stroke-width="0.18" font-weight="normal" textLength="15.79" lengthAdjust="spacingAndGlyphs">78 %</text>
<text x="249.40" y="315.80" font-size="7.7" text-anchor="start" fill="#222" stroke="#222" stroke-width="0.18" font-weight="normal" textLength="11.94" lengthAdjust="spacingAndGlyphs">8 %</text>
<text x="249.40" y="324.60" font-size="7.7" text-anchor="start" fill="#222" stroke="#222" stroke-width="0.18" font-weight="normal" textLength="15.79" lengthAdjust="spacingAndGlyphs">14 %</text>
<text x="214.00" y="414.80" font-size="9.6" text-anchor="middle" fill="#222" stroke="#222" stroke-width="0.18" font-weight="normal" >ONX0912 10nM</text>
<text x="293.80" y="171.20" font-size="17.2" text-anchor="start" fill="#111" stroke="#111" stroke-width="0" font-weight="bold" >D</text>
<text x="302.20" y="203.50" font-size="11.85" text-anchor="start" fill="#111" stroke="#111" stroke-width="0.18" font-weight="normal" >ONX0912 [nM]</text>
<text x="393.50" y="202.60" font-size="10.8" text-anchor="middle" fill="#111" stroke="#111" stroke-width="0.18" font-weight="normal" >0</text>
<text x="417.30" y="202.60" font-size="10.8" text-anchor="middle" fill="#111" stroke="#111" stroke-width="0.18" font-weight="normal" >2.5</text>
<text x="434.10" y="202.60" font-size="10.8" text-anchor="middle" fill="#111" stroke="#111" stroke-width="0.18" font-weight="normal" >5</text>
<text x="457.20" y="202.60" font-size="10.8" text-anchor="middle" fill="#111" stroke="#111" stroke-width="0.18" font-weight="normal" >10</text>
<text x="477.60" y="202.60" font-size="10.8" text-anchor="middle" fill="#111" stroke="#111" stroke-width="0.18" font-weight="normal" >20</text>
<text x="496.70" y="202.60" font-size="10.8" text-anchor="middle" fill="#111" stroke="#111" stroke-width="0.18" font-weight="normal" >50</text>
<line x1="386.50" y1="207.30" x2="506.70" y2="207.30" stroke="#555" stroke-width="1" />
<defs>
<filter id="blur06" x="-20%" y="-50%" width="140%" height="200%" color-interpolation-filters="sRGB"><feConvolveMatrix order="5" kernelMatrix="0.00001 0.00042 0.00170 0.00042 0.00001 0.00042 0.02740 0.10988 0.02740 0.00042 0.00170 0.10988 0.44065 0.10988 0.00170 0.00042 0.02740 0.10988 0.02740 0.00042 0.00001 0.00042 0.00170 0.00042 0.00001" edgeMode="none"/></filter>
</defs>
<rect x="382.90" y="211.90" width="123.30" height="20.70" fill="#dcdcdc"/>
<g filter="url(#blur06)">
<rect x="385.00" y="219.90" width="17.70" height="3.80" rx="3.54" ry="1.90" fill="#0c0c0c"/>
<rect x="406.20" y="220.30" width="17.90" height="3.00" rx="3.58" ry="1.50" fill="#151515"/>
<rect x="426.80" y="219.70" width="16.80" height="3.80" rx="3.36" ry="1.90" fill="#101010"/>
<rect x="448.00" y="219.30" width="16.20" height="4.20" rx="3.24" ry="2.10" fill="#0e0e0e"/>
<rect x="467.60" y="220.10" width="15.40" height="2.80" rx="3.08" ry="1.40" fill="#1c1c1c"/>
<rect x="487.80" y="219.80" width="16.10" height="3.40" rx="3.22" ry="1.70" fill="#141414"/>
</g>
<rect x="382.90" y="237.20" width="123.10" height="16.90" fill="#dddddd"/>
<g filter="url(#blur06)">
<rect x="384.20" y="243.20" width="18.50" height="4.00" rx="3.70" ry="2.00" fill="#0c0c0c"/>
<rect x="406.50" y="243.60" width="17.00" height="2.80" rx="3.40" ry="1.40" fill="#151515"/>
<rect x="428.00" y="243.70" width="14.50" height="2.60" rx="2.90" ry="1.30" fill="#1c1c1c"/>
<rect x="448.70" y="244.25" width="13.50" height="2.30" rx="2.70" ry="1.15" fill="#4a4a4a"/>
<rect x="468.30" y="244.50" width="12.10" height="1.80" rx="2.42" ry="0.90" fill="#8c8c8c"/>
</g>
<rect x="382.90" y="256.30" width="123.30" height="16.10" fill="#d8d8d8"/>
<g filter="url(#blur06)">
<rect x="384.80" y="262.80" width="17.50" height="4.20" rx="3.50" ry="2.10" fill="#0c0c0c"/>
<rect x="405.00" y="263.10" width="18.00" height="2.80" rx="3.60" ry="1.40" fill="#141414"/>
<rect x="426.00" y="262.90" width="17.50" height="2.80" rx="3.50" ry="1.40" fill="#141414"/>
<rect x="445.40" y="262.40" width="16.10" height="3.00" rx="3.22" ry="1.50" fill="#121212"/>
<rect x="465.60" y="262.40" width="16.10" height="3.00" rx="3.22" ry="1.50" fill="#121212"/>
<rect x="486.40" y="263.20" width="17.50" height="2.80" rx="3.50" ry="1.40" fill="#141414"/>
</g>
<rect x="384.20" y="276.90" width="119.60" height="17.90" fill="#bdbdbd"/>
<g filter="url(#blur06)">
<rect x="385.00" y="284.15" width="19.60" height="4.90" rx="3.92" ry="2.45" fill="#0a0a0a"/>
<rect x="406.90" y="283.95" width="17.20" height="4.90" rx="3.44" ry="2.45" fill="#0a0a0a"/>
<rect x="426.10" y="283.75" width="17.90" height="4.90" rx="3.58" ry="2.45" fill="#0a0a0a"/>
<rect x="445.00" y="283.35" width="17.30" height="4.90" rx="3.46" ry="2.45" fill="#0a0a0a"/>
<rect x="463.80" y="283.25" width="17.40" height="4.90" rx="3.48" ry="2.45" fill="#0a0a0a"/>
<rect x="483.00" y="283.35" width="19.80" height="4.70" rx="3.96" ry="2.35" fill="#0a0a0a"/>
</g>
<rect x="383.10" y="299.20" width="122.90" height="19.20" fill="#cecece"/>
<g filter="url(#blur06)">
<rect x="385.80" y="308.80" width="14.60" height="2.40" rx="2.92" ry="1.20" fill="#161616"/>
<rect x="407.70" y="308.60" width="13.70" height="3.00" rx="2.74" ry="1.50" fill="#121212"/>
<rect x="426.90" y="307.30" width="16.60" height="4.80" rx="3.32" ry="2.40" fill="#0a0a0a"/>
<rect x="445.80" y="305.40" width="20.00" height="7.80" rx="6.00" ry="3.90" fill="#0a0a0a"/>
<rect x="466.70" y="302.10" width="19.70" height="11.60" rx="6.89" ry="5.80" fill="#0a0a0a"/>
<rect x="486.90" y="302.50" width="18.80" height="10.80" rx="6.58" ry="5.40" fill="#0a0a0a"/>
<rect x="462.00" y="307.10" width="8.00" height="5.00" rx="1.60" ry="2.50" fill="#0a0a0a"/>
<rect x="483.00" y="306.20" width="7.00" height="5.60" rx="1.40" ry="2.80" fill="#0a0a0a"/>
</g>
<rect x="383.10" y="323.80" width="122.90" height="15.20" fill="#bdbdbd"/>
<g filter="url(#blur06)">
<rect x="383.80" y="328.20" width="21.00" height="7.80" rx="4.00" ry="3.90" fill="#0a0a0a"/>
<rect x="404.00" y="327.50" width="21.00" height="8.60" rx="4.00" ry="4.30" fill="#0a0a0a"/>
<rect x="424.00" y="327.60" width="21.50" height="8.40" rx="4.00" ry="4.20" fill="#0a0a0a"/>
<rect x="444.00" y="327.60" width="22.00" height="8.00" rx="4.00" ry="4.00" fill="#0a0a0a"/>
<rect x="465.00" y="328.30" width="21.00" height="7.00" rx="4.00" ry="3.50" fill="#0a0a0a"/>
<rect x="485.00" y="327.40" width="20.70" height="8.80" rx="4.00" ry="4.40" fill="#0a0a0a"/>
</g>
<rect x="383.10" y="349.00" width="122.90" height="15.20" fill="#c9c9c9"/>
<g filter="url(#blur06)">
<rect x="385.60" y="355.50" width="13.40" height="2.60" rx="2.68" ry="1.30" fill="#888"/>
<rect x="406.80" y="354.70" width="14.00" height="3.00" rx="2.80" ry="1.50" fill="#383838"/>
<rect x="428.60" y="354.50" width="13.90" height="3.00" rx="2.78" ry="1.50" fill="#383838"/>
<rect x="449.80" y="354.30" width="11.90" height="3.00" rx="2.38" ry="1.50" fill="#383838"/>
<rect x="469.10" y="353.80" width="13.50" height="3.40" rx="2.70" ry="1.70" fill="#202020"/>
<rect x="488.80" y="352.60" width="15.40" height="5.60" rx="4.62" ry="2.80" fill="#0a0a0a"/>
</g>
<rect x="383.10" y="366.50" width="122.90" height="13.90" fill="#c6c6c6"/>
<g filter="url(#blur06)">
<rect x="384.80" y="371.60" width="20.40" height="5.40" rx="4.00" ry="2.70" fill="#0a0a0a"/>
<rect x="403.80" y="371.30" width="21.40" height="5.40" rx="4.00" ry="2.70" fill="#0a0a0a"/>
<rect x="423.80" y="371.20" width="21.40" height="5.20" rx="4.00" ry="2.60" fill="#0a0a0a"/>
<rect x="443.80" y="371.00" width="22.40" height="5.00" rx="4.00" ry="2.50" fill="#0a0a0a"/>
<rect x="464.80" y="370.65" width="21.40" height="4.90" rx="4.00" ry="2.45" fill="#0a0a0a"/>
<rect x="484.80" y="370.50" width="19.00" height="4.80" rx="3.80" ry="2.40" fill="#0a0a0a"/>
</g>
<text x="375.80" y="224.10" font-size="11" text-anchor="end" fill="#111" stroke="#111" stroke-width="0.18" font-weight="normal" >Cyclin D1</text>
<text x="376.10" y="251.00" font-size="11" text-anchor="end" fill="#111" stroke="#111" stroke-width="0.18" font-weight="normal" >Cyclin D2</text>
<text x="375.80" y="269.10" font-size="11" text-anchor="end" fill="#111" stroke="#111" stroke-width="0.18" font-weight="normal" >Cyclin E</text>
<text x="375.80" y="291.00" font-size="11" text-anchor="end" fill="#111" stroke="#111" stroke-width="0.18"><tspan font-style="italic" fill="#555" stroke="#555">&#946;</tspan><tspan fill="#555" stroke="#555">&#8211;</tspan>actin</text>
<text x="325.6" y="313.2" font-size="11" fill="#111" stroke="#111" stroke-width="0.18">p21<tspan font-size="7.3" dy="-4.2" fill="#444" stroke="#444">waf1/cip1</tspan></text>
<text x="372.50" y="336.40" font-size="11" text-anchor="end" fill="#111" stroke="#111" stroke-width="0.18"><tspan font-style="italic" fill="#555" stroke="#555">&#946;</tspan><tspan fill="#555" stroke="#555">&#8211;</tspan>actin</text>
<text x="340.5" y="361.8" font-size="11" fill="#111" stroke="#111" stroke-width="0.18">p27<tspan font-size="7.3" dy="-4.4" fill="#444" stroke="#444">kip1</tspan></text>
<text x="376.20" y="379.20" font-size="11" text-anchor="end" fill="#111" stroke="#111" stroke-width="0.18"><tspan font-style="italic" fill="#555" stroke="#555">&#946;</tspan><tspan fill="#555" stroke="#555">&#8211;</tspan>actin</text>
</g>
</svg>
</body></html>
